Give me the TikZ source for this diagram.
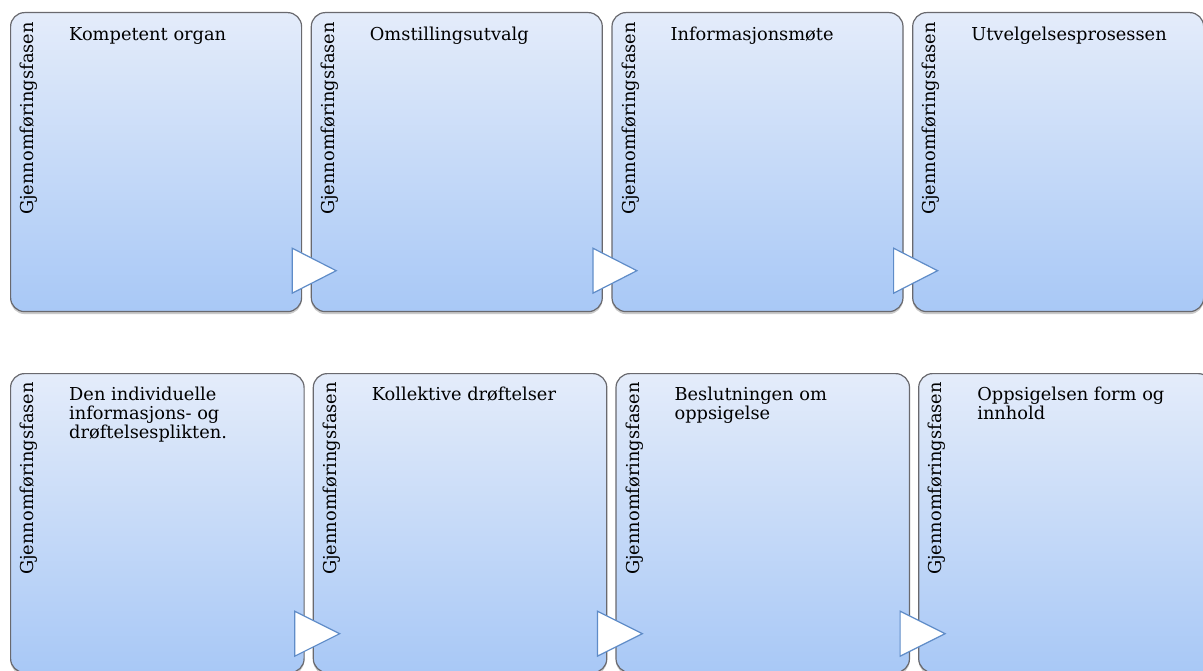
\documentclass[tikz,border=0pt]{standalone}
\usepackage{fontspec}
\setmainfont{DejaVu Serif}
\usetikzlibrary{positioning, calc, shadows}

\definecolor{boxtop}{RGB}{228,236,250}
\definecolor{boxbot}{RGB}{168,200,246}
\definecolor{boxline}{RGB}{105,105,110}
\definecolor{triline}{RGB}{95,140,200}

\begin{document}
\begin{tikzpicture}[
    x=1pt, y=1pt,
    node distance=9pt and 8.5pt,
    phase/.style={draw=boxline, line width=1.2pt, rounded corners=14pt, top color=boxtop, bottom color=boxbot,
        minimum width=291pt, minimum height=299pt, inner sep=0pt,
        drop shadow={shadow xshift=0pt, shadow yshift=-2.5pt, opacity=0.35, fill=black!60}},
    wide/.style={phase, minimum width=293.5pt},
    side/.style={rotate=90, anchor=north east, inner sep=0pt, font=\fontsize{17.8}{20}\selectfont},
    head/.style={anchor=north west, inner sep=0pt, align=left, font=\fontsize{17.8}{19}\selectfont},
    tri/.style={draw=triline, line width=1.2pt, fill=white, line join=miter},
]
\useasboundingbox (0,0) rectangle (1203,-671);

% Top row
\node[phase, anchor=north west] (k1) at (10,-12) {};
\node[phase, right=of k1] (k2) {};
\node[phase, right=of k2] (k3) {};
\node[phase, right=of k3] (k4) {};

\node[side] (k1s) at ($(k1.north west)+(10,-10)$) {Gjennomføringsfasen};
\node[side] (k2s) at ($(k2.north west)+(10,-10)$) {Gjennomføringsfasen};
\node[side] (k3s) at ($(k3.north west)+(10,-10)$) {Gjennomføringsfasen};
\node[side] (k4s) at ($(k4.north west)+(10,-10)$) {Gjennomføringsfasen};

\node[head] (k1h) at ($(k1.north west)+(59,-15)$) {Kompetent organ};
\node[head] (k2h) at ($(k2.north west)+(59,-15)$) {Omstillingsutvalg};
\node[head] (k3h) at ($(k3.north west)+(59,-15)$) {Informasjonsmøte};
\node[head] (k4h) at ($(k4.north west)+(59,-15)$) {Utvelgelsesprosessen};

% arrows between top boxes
\draw[tri] ($(k1.south east)+(-10,19)$) -- ++(0,45) -- ++(44,-22.5) -- cycle;
\draw[tri] ($(k2.south east)+(-10,19)$) -- ++(0,45) -- ++(44,-22.5) -- cycle;
\draw[tri] ($(k3.south east)+(-10,19)$) -- ++(0,45) -- ++(44,-22.5) -- cycle;

% Bottom row
\node[wide, anchor=north west] (b1) at (10,-373) {};
\node[wide, right=8pt of b1] (b2) {};
\node[wide, right=8pt of b2] (b3) {};
\node[wide, right=8pt of b3] (b4) {};

\node[side] (b1s) at ($(b1.north west)+(10,-9)$) {Gjennomføringsfasen};
\node[side] (b2s) at ($(b2.north west)+(10,-9)$) {Gjennomføringsfasen};
\node[side] (b3s) at ($(b3.north west)+(10,-9)$) {Gjennomføringsfasen};
\node[side] (b4s) at ($(b4.north west)+(10,-9)$) {Gjennomføringsfasen};

\node[head] (b1h) at ($(b1.north west)+(59,-14)$) {Den individuelle\\informasjons- og\\drøftelsesplikten.};
\node[head] (b2h) at ($(b2.north west)+(59,-14)$) {Kollektive drøftelser};
\node[head] (b3h) at ($(b3.north west)+(59,-14)$) {Beslutningen om\\oppsigelse};
\node[head] (b4h) at ($(b4.north west)+(59,-14)$) {Oppsigelsen form og\\innhold};

% arrows between bottom boxes
\draw[tri] ($(b1.south east)+(-10,17)$) -- ++(0,45) -- ++(45,-22.5) -- cycle;
\draw[tri] ($(b2.south east)+(-10,17)$) -- ++(0,45) -- ++(45,-22.5) -- cycle;
\draw[tri] ($(b3.south east)+(-10,17)$) -- ++(0,45) -- ++(45,-22.5) -- cycle;

\end{tikzpicture}
\end{document}
